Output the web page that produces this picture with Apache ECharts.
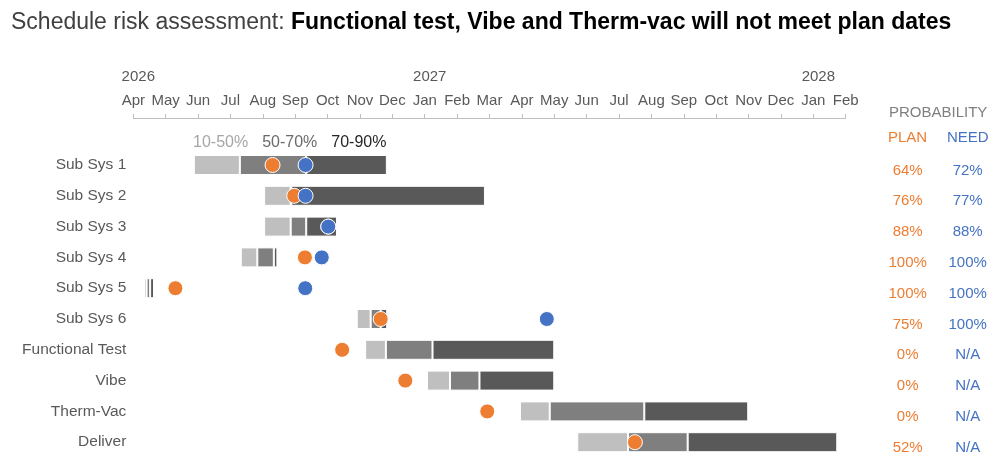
<!DOCTYPE html>
<html>
<head>
<meta charset="utf-8">
<script src="https://cdn.jsdelivr.net/npm/echarts@6/dist/echarts.min.js"></script>
<style>
html,body{margin:0;padding:0;background:#fff;}
#main{width:1000px;height:472px;}
</style>
</head>
<body>
<div id="main"></div>
<script>
// ---- data (dates in months after 1 Apr 2026) ----
var categories = ['Sub Sys 1','Sub Sys 2','Sub Sys 3','Sub Sys 4','Sub Sys 5','Sub Sys 6','Functional Test','Vibe','Therm-Vac','Deliver'];
var p10 = [1.87, 4.04, 4.04, 3.32, 0.33, 6.90, 7.16, 9.07, 11.94, 13.71];
var p50 = [3.29, 4.86, 4.86, 3.83, 0.41, 7.33, 7.80, 9.78, 12.86, 15.28];
var p70 = [5.34, 4.88, 5.34, 4.34, 0.52, 7.64, 9.24, 10.69, 15.78, 17.12];
var p90 = [7.83, 10.86, 6.29, 4.45, 0.64, 7.84, 13.00, 13.00, 18.99, 21.74];
var planDate = [4.30, 4.97, 6.02, 5.30, 1.30, 7.64, 6.45, 8.40, 10.93, 15.49];
var needDate = [5.32, 5.32, 6.02, 5.82, 5.31, 12.77, null, null, null, null];
var planProb = ['64%','76%','88%','100%','100%','75%','0%','0%','0%','52%'];
var needProb = ['72%','77%','88%','100%','100%','100%','N/A','N/A','N/A','N/A'];
var monthLabels = ['Apr','May','Jun','Jul','Aug','Sep','Oct','Nov','Dec','Jan','Feb','Mar','Apr','May','Jun','Jul','Aug','Sep','Oct','Nov','Dec','Jan','Feb'];
var startYear = 2026;
var bandNames = ['10-50%','50-70%','70-90%'];

// ---- derived ----
function diff(a,b){return a.map(function(v,i){return +(b[i]-v).toFixed(3);});}
var yearLabels = [];
(function(){var y=startYear;for(var i=0;i<monthLabels.length;i++){if(i>0&&monthLabels[i]==='Jan'){y++;yearLabels.push(String(y));}else if(i===0){yearLabels.push(String(y));}else{yearLabels.push('');}}})();

var FONT = '"Liberation Sans", Arial, Helvetica, sans-serif';
var ORANGE = '#ED7D31', BLUE = '#4472C4';
var barColors = ['#BFBFBF','#7F7F7F','#595959'];
var legendColors = ['#A6A6A6','#6B6B6B','#262626'];

var chart = echarts.init(document.getElementById('main'), null, {renderer:'canvas'});

var gridLeft = 133.3, gridRight = 154.3, gridTop = 149.6, gridH = 308;

var series = [{
  name:'base', type:'bar', stack:'s', yAxisIndex:0, barWidth:20, silent:true,
  itemStyle:{color:'transparent'}, data:p10
}];
var segs = [diff(p10,p50), diff(p50,p70), diff(p70,p90)];
for (var k=0;k<3;k++){
  series.push({
    name:bandNames[k], type:'bar', stack:'s', yAxisIndex:0, barWidth:20,
    itemStyle:{color:barColors[k], borderColor:'#fff', borderWidth:1},
    data:segs[k]
  });
}
series.push({
  name:'Plan', type:'scatter', yAxisIndex:0, symbolSize:15, z:5,
  itemStyle:{color:ORANGE, borderColor:'#fff', borderWidth:1, opacity:1},
  data:planDate.map(function(v,i){return [v,i];})
});
series.push({
  name:'Need', type:'scatter', yAxisIndex:0, symbolSize:15, z:6,
  itemStyle:{color:BLUE, borderColor:'#fff', borderWidth:1, opacity:1},
  data:needDate.map(function(v,i){return v==null?null:[v,i];}).filter(function(d){return d;})
});

var option = {
  animation:false,
  textStyle:{fontFamily:FONT},
  title:{
    left:6, top:6,
    text:'{a|Schedule risk assessment: }{b|Functional test, Vibe and Therm-vac will not meet plan dates}',
    textStyle:{fontWeight:'normal', rich:{
      a:{fontFamily:FONT,fontSize:23,fontWeight:'normal',color:'#404040'},
      b:{fontFamily:FONT,fontSize:23,fontWeight:'bold',color:'#000'}
    }}
  },
  legend:{
    data:bandNames.map(function(n,i){return {name:n, icon:'none', textStyle:{color:legendColors[i]}};}),
    left:183, top:130, itemWidth:0, itemHeight:0, itemGap:9, selectedMode:false,
    textStyle:{fontFamily:FONT,fontSize:16}
  },
  grid:{left:gridLeft, right:gridRight, top:gridTop, height:gridH, containLabel:false},
  xAxis:[{
    type:'value', min:0, max:monthLabels.length-1, interval:1, position:'top', offset:31.6,
    axisLine:{show:true, lineStyle:{color:'#BFBFBF', width:1}},
    axisTick:{show:true, length:4, lineStyle:{color:'#BFBFBF'}},
    splitLine:{show:false},
    axisLabel:{margin:10, color:'#595959', fontSize:15, fontFamily:FONT,
      formatter:function(v){return monthLabels[Math.round(v)]||'';}}
  },{
    type:'value', min:0, max:monthLabels.length-1, interval:1, position:'top', offset:31.6,
    axisLine:{show:false}, axisTick:{show:false}, splitLine:{show:false},
    axisLabel:{margin:34, color:'#595959', fontSize:15, fontFamily:FONT,
      formatter:function(v){var t=yearLabels[Math.round(v)];return t?'{y|'+t+'}':'';},
      rich:{y:{fontSize:15, fontFamily:FONT, color:'#595959', padding:[0,0,0,10]}}}
  }],
  yAxis:[{
    type:'category', data:categories, inverse:true,
    axisLine:{show:false}, axisTick:{show:false},
    axisLabel:{margin:7, color:'#595959', fontSize:15.5, fontFamily:FONT}
  },{
    type:'category', data:categories, inverse:true, position:'right',
    axisLine:{show:false}, axisTick:{show:false},
    axisLabel:{margin:62, align:'center', fontFamily:FONT,
      formatter:function(v,i){return '{v|'+planProb[i]+'}';},
      rich:{v:{color:ORANGE, fontSize:15, fontFamily:FONT, padding:[11,0,0,0]}}}
  },{
    type:'category', data:categories, inverse:true, position:'right', offset:0,
    axisLine:{show:false}, axisTick:{show:false},
    axisLabel:{margin:122, align:'center', fontFamily:FONT,
      formatter:function(v,i){return '{v|'+needProb[i]+'}';},
      rich:{v:{color:BLUE, fontSize:15, fontFamily:FONT, padding:[11,0,0,0]}}}
  }],
  graphic:[
    {type:'text', left:889, top:105, style:{text:'PROBABILITY', fill:'#7F7F7F', font:'15px '+FONT}},
    {type:'text', left:888, top:130, style:{text:'PLAN', fill:ORANGE, font:'15px '+FONT}},
    {type:'text', left:947, top:130, style:{text:'NEED', fill:BLUE, font:'15px '+FONT}}
  ],
  series:series
};
chart.setOption(option);
</script>
</body>
</html>
